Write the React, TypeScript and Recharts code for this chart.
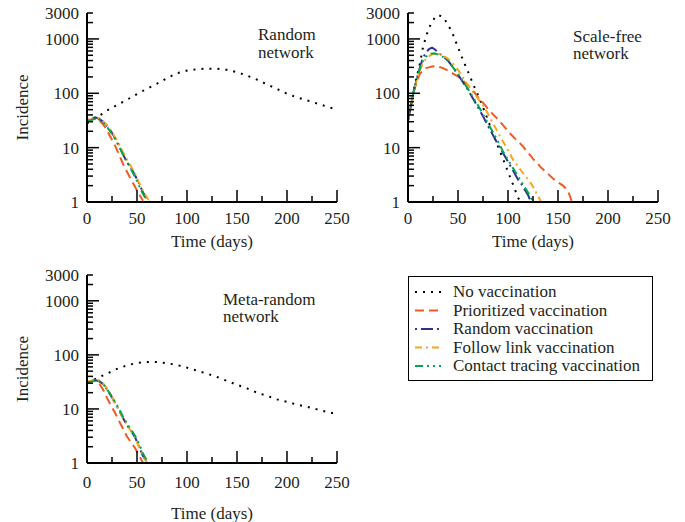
import { LineChart, Line, XAxis, YAxis } from 'recharts'

const FONT = '"Liberation Serif", "Times New Roman", Times, serif'
const INK = '#231f20'

const xTicks = [0, 25, 50, 75, 100, 125, 150, 175, 200, 225, 250]
const yTicks = [
  1, 2, 3, 4, 5, 6, 7, 8, 9, 10, 20, 30, 40, 50, 60, 70, 80, 90, 100, 200, 300, 400, 500, 600, 700, 800, 900,
  1000, 2000, 3000,
]
const yLabels = [1, 10, 100, 1000, 3000]
const yMajor = [1, 10, 100, 1000]

// Random network
const rnDays = [0, 10, 20, 30, 40, 50, 60, 70, 80, 90, 100, 110, 120, 130, 140, 150, 160, 170, 180, 190, 200, 210, 220, 230, 240, 250]
const rnNone = [28, 36, 48, 61, 76, 97, 121, 150, 190, 235, 262, 278, 284, 283, 270, 245, 212, 178, 146, 120, 98, 84, 74, 65, 57, 50]
const rnVacDays = [0, 4, 8, 12, 16, 20, 24, 28, 32, 36, 40, 44, 48, 52, 56, 60, 63]
const rnPrior = [32, 33, 35, 32, 27, 21, 15, 11, 7.5, 5, 3.6, 2.6, 1.9, 1.4, 1.05, null, null]
const rnRandom = [32, 34, 36, 34, 30, 25, 20, 15, 11, 7.5, 5.4, 4.2, 3.1, 2.2, 1.5, 1.15, 1.0]
const rnFollow = [31, 33, 35, 35, 31, 26, 20.5, 15.5, 11.5, 8.2, 6, 4.5, 3.3, 2.3, 1.6, 1.2, 1.0]
const rnContact = [31, 32, 34, 33, 29, 24, 19, 14.5, 10.5, 7.5, 5.5, 4.0, 2.9, 2.0, 1.4, 1.05, null]

// Scale-free network
const sfDays = [0, 3, 6, 9, 12, 15, 18, 21, 24, 27, 30, 35, 40, 45, 50, 55, 60, 65, 70, 75, 80, 85, 90, 95, 100, 105, 110, 113, 115, 120, 123, 125, 130, 133, 135, 140, 145, 150, 155, 160, 164]
const sfNone = [32, 60, 120, 210, 360, 700, 1100, 1600, 2000, 2500, 2750, 2550, 1850, 1200, 700, 410, 250, 150, 92, 55, 32, 18, 10.5, 6.2, 3.6, 2.1, 1.2, 1.0, null, null, null, null, null, null, null, null, null, null, null, null, null]
const sfPrior = [32, 60, 110, 170, 230, 265, 290, 300, 310, 315, 310, 290, 262, 230, 205, 170, 140, 112, 85, 67, 52, 41, 33, 26, 20, 16, 13, 11.5, 10.5, 8, 7, 6.2, 5, 4.3, 4, 3.3, 2.7, 2.3, 2.0, 1.6, 1.0]
const sfRandom = [32, 60, 115, 190, 300, 450, 560, 650, 690, 640, 560, 480, 400, 300, 220, 160, 115, 80, 55, 38, 25, 17, 11.5, 8, 5.5, 3.8, 2.6, 2.2, 1.9, 1.35, 1.0, null, null, null, null, null, null, null, null, null, null]
const sfFollow = [32, 60, 110, 180, 270, 360, 430, 480, 520, 540, 540, 500, 430, 350, 270, 195, 140, 105, 80, 60, 42, 28, 19, 13, 9, 6, 4.5, 3.8, 3.4, 2.6, 2.2, 1.9, 1.3, 1.0, null, null, null, null, null, null, null]
const sfContact = [32, 60, 115, 190, 290, 400, 470, 520, 540, 540, 520, 470, 390, 300, 225, 165, 120, 85, 60, 41, 28, 19, 13, 8.5, 6, 4.2, 3.0, 2.4, 2.1, 1.5, 1.2, 1.0, null, null, null, null, null, null, null, null, null]

// Meta-random network
const mrDays = [0, 10, 20, 30, 40, 50, 60, 70, 80, 90, 100, 110, 120, 130, 140, 150, 160, 170, 180, 190, 200, 210, 220, 230, 240, 250]
const mrNone = [30, 37, 45, 55, 64, 71, 74, 74, 70, 65, 58, 51, 45, 39, 33, 28, 24, 20, 17.5, 15, 13.5, 12, 11, 9.8, 8.8, 8]
const mrVacDays = [0, 4, 8, 12, 16, 20, 24, 28, 32, 36, 40, 44, 48, 52, 56, 60, 62]
const mrPrior = [31, 33, 34, 30, 23, 16, 11.5, 8.5, 6, 4.3, 3.1, 2.4, 1.9, 1.4, 1.0, null, null]
const mrRandom = [31, 33, 34, 33, 29, 23, 17.5, 13, 9.5, 6.8, 5, 4, 3, 2, 1.35, 1.05, null]
const mrFollow = [32, 33, 35, 34, 30, 24, 18, 13, 9.5, 6.8, 5, 3.9, 2.9, 2.0, 1.4, 1.0, null]
const mrContact = [31, 32, 33, 32, 29, 23, 18, 13.5, 10, 7.2, 5.3, 4.2, 3.2, 2.3, 1.5, 1.1, 1.0]

const seriesStyle = [
  { name: 'No vaccination', color: '#000000', dash: '2 6' },
  { name: 'Prioritized vaccination', color: '#f15a24', dash: '9 5' },
  { name: 'Random vaccination', color: '#2e3192', dash: '2 4 12 4' },
  { name: 'Follow link vaccination', color: '#f7a51c', dash: '7 4 2 4' },
  { name: 'Contact tracing vaccination', color: '#00a651', dash: '8 4 2 4 2 4' },
]

type Series = { t: number[]; v: (number | null)[] }

const toPts = (s: Series) => s.t.map((t, i) => ({ t, v: s.v[i] }))

const axisStyle = { stroke: '#000', strokeWidth: 2 }
const textStyle = { fontFamily: FONT, fontSize: 17, fill: INK }

function BottomTick(p: any) {
  const v = p.payload.value
  const len = v % 50 === 0 ? 12 : 6
  return (
    <g>
      <line x1={p.x} x2={p.x} y1={p.y} y2={p.y - len} stroke="#000" strokeWidth={1.5} />
      {v % 50 === 0 && (
        <text x={p.x} y={p.y + p.gap} textAnchor="middle" style={textStyle}>
          {v}
        </text>
      )}
    </g>
  )
}

function TopTick(p: any) {
  const len = p.payload.value % 50 === 0 ? 12 : 6
  return <line x1={p.x} x2={p.x} y1={p.y} y2={p.y + len} stroke="#000" strokeWidth={1.5} />
}

function LeftTick(p: any) {
  const v = p.payload.value
  const len = yMajor.includes(v) ? 12 : 6
  return (
    <g>
      <line x1={p.x} x2={p.x + len} y1={p.y} y2={p.y} stroke="#000" strokeWidth={1.5} />
      {yLabels.includes(v) && (
        <text x={p.x - 8} y={p.y + 6} textAnchor="end" style={textStyle}>
          {v}
        </text>
      )}
    </g>
  )
}

function RightTick(p: any) {
  const len = yMajor.includes(p.payload.value) ? 12 : 6
  return <line x1={p.x} x2={p.x - len} y1={p.y} y2={p.y} stroke="#000" strokeWidth={1.5} />
}

interface PanelProps {
  left: number
  top: number
  height: number
  series: Series[]
  tickGap: number
  xLabelGap: number
  yLabel: boolean
}

function Panel({ left, top, height, series, tickGap, xLabelGap, yLabel }: PanelProps) {
  return (
    <div style={{ position: 'absolute', left, top }}>
      <LineChart width={345} height={height} margin={{ top: 13, right: 8, left: 27, bottom: 0 }}>
        <XAxis
          xAxisId="b"
          dataKey="t"
          type="number"
          domain={[0, 250]}
          allowDataOverflow
          ticks={xTicks}
          interval={0}
          tickSize={0}
          tickMargin={0}
          tickLine={false}
          axisLine={axisStyle}
          height={53}
          tick={(p: any) => <BottomTick {...p} gap={tickGap} />}
          label={(p: any) => (
            <text
              x={p.viewBox.x + p.viewBox.width / 2}
              y={p.viewBox.y + xLabelGap + 6}
              textAnchor="middle"
              style={textStyle}
            >
              Time (days)
            </text>
          )}
        />
        <XAxis
          xAxisId="t"
          orientation="top"
          dataKey="t"
          type="number"
          domain={[0, 250]}
          allowDataOverflow
          ticks={xTicks}
          interval={0}
          tickSize={0}
          tickMargin={0}
          tickLine={false}
          axisLine={axisStyle}
          height={0}
          tick={TopTick}
        />
        <YAxis
          yAxisId="l"
          scale="log"
          type="number"
          domain={[1, 3000]}
          allowDataOverflow
          ticks={yTicks}
          interval={0}
          tickSize={0}
          tickMargin={0}
          tickLine={false}
          axisLine={axisStyle}
          width={60}
          tick={LeftTick}
          label={(p: any) =>
            yLabel ? (
              <text
                x={22}
                y={p.viewBox.y + p.viewBox.height / 2}
                transform={`rotate(-90, 22, ${p.viewBox.y + p.viewBox.height / 2})`}
                dy={6}
                textAnchor="middle"
                style={textStyle}
              >
                Incidence
              </text>
            ) : null
          }
        />
        <YAxis
          yAxisId="r"
          orientation="right"
          scale="log"
          type="number"
          domain={[1, 3000]}
          allowDataOverflow
          ticks={yTicks}
          interval={0}
          tickSize={0}
          tickMargin={0}
          tickLine={false}
          axisLine={axisStyle}
          width={0}
          tick={RightTick}
        />
        {series.map((s, i) => (
          <Line
            key={seriesStyle[i].name}
            xAxisId="b"
            yAxisId="l"
            data={toPts(s)}
            dataKey="v"
            name={seriesStyle[i].name}
            stroke={seriesStyle[i].color}
            strokeWidth={2}
            strokeDasharray={seriesStyle[i].dash}
            dot={false}
            activeDot={false}
            isAnimationActive={false}
            type="linear"
          />
        ))}
      </LineChart>
    </div>
  )
}

const randomSeries: Series[] = [
  { t: rnDays, v: rnNone },
  { t: rnVacDays, v: rnPrior },
  { t: rnVacDays, v: rnRandom },
  { t: rnVacDays, v: rnFollow },
  { t: rnVacDays, v: rnContact },
]
const scaleFreeSeries: Series[] = [
  { t: sfDays, v: sfNone },
  { t: sfDays, v: sfPrior },
  { t: sfDays, v: sfRandom },
  { t: sfDays, v: sfFollow },
  { t: sfDays, v: sfContact },
]
const metaSeries: Series[] = [
  { t: mrDays, v: mrNone },
  { t: mrVacDays, v: mrPrior },
  { t: mrVacDays, v: mrRandom },
  { t: mrVacDays, v: mrFollow },
  { t: mrVacDays, v: mrContact },
]

export default function App() {
  return (
    <div style={{ position: 'absolute', left: 0, top: 0, width: 685, height: 522, background: '#fff', overflow: 'hidden' }}>
      <style>{'.recharts-surface { overflow: visible; }'}</style>
      <Panel left={0} top={0} height={255} series={randomSeries} tickGap={22} xLabelGap={39} yLabel />
      <Panel left={321} top={0} height={255} series={scaleFreeSeries} tickGap={22} xLabelGap={39} yLabel={false} />
      <Panel left={0} top={262} height={254} series={metaSeries} tickGap={25} xLabelGap={50} yLabel />
      <svg width={685} height={522} style={{ position: 'absolute', left: 0, top: 0, pointerEvents: 'none' }}>
        <text x={258} y={40} style={textStyle}>Random</text>
        <text x={258} y={58} style={textStyle}>network</text>
        <text x={573} y={42} style={textStyle}>Scale-free</text>
        <text x={573} y={59} style={textStyle}>network</text>
        <text x={223} y={305} style={textStyle}>Meta-random</text>
        <text x={223} y={322} style={textStyle}>network</text>
        <rect x={408.5} y={276.5} width={244} height={104} fill="#fff" stroke="#000" strokeWidth={1} />
        {seriesStyle.map((s, i) => (
          <g key={s.name}>
            <line
              x1={415}
              x2={441}
              y1={292 + i * 18.5}
              y2={292 + i * 18.5}
              stroke={s.color}
              strokeWidth={2}
              strokeDasharray={s.dash}
            />
            <text x={453} y={297 + i * 18.5} style={textStyle}>
              {s.name}
            </text>
          </g>
        ))}
      </svg>
    </div>
  )
}
